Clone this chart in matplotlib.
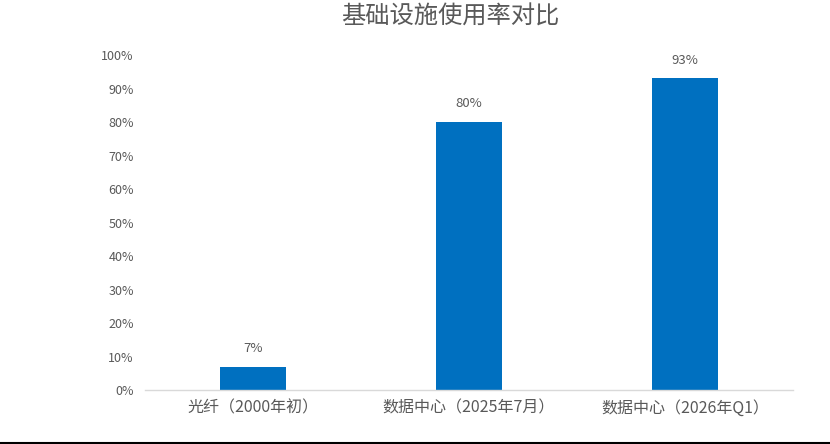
import matplotlib.pyplot as plt
from matplotlib.lines import Line2D

plt.rcParams['font.family'] = ['Noto Sans CJK SC', 'DejaVu Sans']

title = "基础设施使用率对比"
categories = ["光纤（2000年初）", "数据中心（2025年7月）", "数据中心（2026年Q1）"]
usage = [7, 80, 93]
yticks = [0, 10, 20, 30, 40, 50, 60, 70, 80, 90, 100]

bar_color = "#0070C0"
text_color = "#595959"

fig = plt.figure(figsize=(8.3, 4.44), dpi=100)
ax = fig.add_axes([0.1747, 0.1216, 0.7807, 0.7545])

x = range(len(categories))
bars = ax.bar(x, usage, width=0.31, color=bar_color, zorder=2)
for b, v in zip(bars, usage):
    ax.text(b.get_x() + b.get_width() / 2, v + 3.5, f"{v}%",
            ha="center", va="bottom", fontsize=9.5, color=text_color)

ax.set_xlim(-0.5, 2.5)
ax.set_ylim(0, 100)
ax.set_yticks(yticks)
ax.set_yticklabels([f"{t}%" for t in yticks], fontsize=9, color=text_color)
ax.set_xticks(list(x))
ax.set_xticklabels(categories, fontsize=11.5, color=text_color)
ax.tick_params(axis="both", length=0)
ax.tick_params(axis="y", pad=8)
ax.tick_params(axis="x", pad=7)

for s in ["top", "right", "left"]:
    ax.spines[s].set_visible(False)
ax.spines["bottom"].set_color("#D9D9D9")
ax.spines["bottom"].set_linewidth(1)

fig.text(0.542, 0.962, title, ha="center", va="center", fontsize=17.5,
         color=text_color)

# black border line at bottom of the image
fig.add_artist(Line2D([0, 1], [0.003, 0.003], color="black", linewidth=1.5,
                      transform=fig.transFigure))

fig.savefig("out.png", dpi=100)
